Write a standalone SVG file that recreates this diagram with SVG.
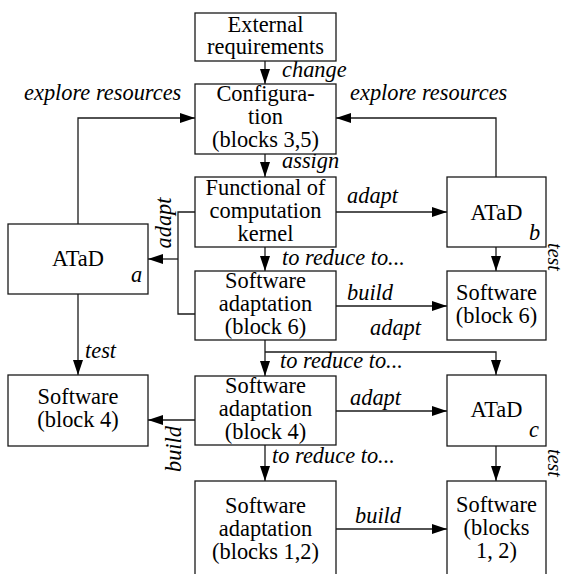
<svg xmlns="http://www.w3.org/2000/svg" width="561" height="574" viewBox="0 0 561 574" font-family="'Liberation Serif', 'Times New Roman', Times, serif">
  <style>
    .box { fill: #fff; stroke: #1a1a1a; stroke-width: 1.3; }
    text { font-family: 'Liberation Serif', 'Times New Roman', Times, serif; font-size: 22.4px; fill: #000; }
    .t { text-anchor: middle; }
    .l { font-style: italic; }
    .s { font-size: 20px; }
    .c { fill: none; stroke: #1a1a1a; stroke-width: 1.3; }
    .a { marker-end: url(#arrow); }
  </style>
  <defs>
    <marker id="arrow" markerUnits="userSpaceOnUse" markerWidth="15" markerHeight="10" refX="15" refY="5" orient="auto">
      <path d="M0,0 L15,5 L0,10 z" fill="#000"/>
    </marker>
  </defs>
  <rect width="561" height="574" fill="#fff"/>

  <!-- connectors -->
  <g id="connectors">
    <path class="c a" d="M265,61 V84"/>
    <path class="c a" d="M265,154 V177"/>
    <path class="c a" d="M265,247 V271"/>
    <path class="c a" d="M265,340 V376"/>
    <path class="c a" d="M265,352 H496 V375"/>
    <path class="c a" d="M265,445 V481"/>
    <path class="c a" d="M78,224 V118 H195"/>
    <path class="c a" d="M496,177 V118 H336"/>
    <path class="c a" d="M336,212 H447"/>
    <path class="c a" d="M336,306 H447"/>
    <path class="c a" d="M496,247 V271"/>
    <path class="c" d="M195,212 H178 V314 H195"/>
    <path class="c a" d="M178,259 H148"/>
    <path class="c a" d="M78,294 V375"/>
    <path class="c a" d="M195,420 H148"/>
    <path class="c a" d="M336,411 H447"/>
    <path class="c a" d="M496,446 V481"/>
    <path class="c a" d="M336,529 H447"/>
  </g>

  <!-- connector labels -->
  <g id="labels" font-family="'Liberation Serif', serif">
    <text class="l" x="282" y="77">change</text>
    <text class="l" x="24" y="100">explore resources</text>
    <text class="l" x="350" y="100">explore resources</text>
    <text class="l" x="282" y="168">assign</text>
    <text class="l" x="347" y="203">adapt</text>
    <text class="l" x="282" y="265">to reduce to...</text>
    <text class="l" x="347" y="300">build</text>
    <text class="l" x="370" y="335">adapt</text>
    <text class="l" x="280" y="368">to reduce to...</text>
    <text class="l" x="85" y="358">test</text>
    <text class="l" x="350" y="405">adapt</text>
    <text class="l" x="272" y="463">to reduce to...</text>
    <text class="l" x="355" y="523">build</text>
    <text class="l" text-anchor="middle" transform="translate(171,223) rotate(-90)">adapt</text>
    <text class="l" text-anchor="middle" transform="translate(181,449) rotate(-90)">build</text>
    <text class="l s" text-anchor="middle" transform="translate(548,257) rotate(90)">test</text>
    <text class="l s" text-anchor="middle" transform="translate(548,463) rotate(90)">test</text>
  </g>

  <g id="external">
    <rect class="box" x="195" y="13" width="141" height="48"/>
    <text class="t" x="265.5" y="32">External</text>
    <text class="t" x="265.5" y="54">requirements</text>
  </g>

  <g id="configuration">
    <rect class="box" x="195" y="84" width="141" height="70"/>
    <text class="t" x="265.5" y="101">Configura-</text>
    <text class="t" x="265.5" y="124">tion</text>
    <text class="t" x="265.5" y="147">(blocks 3,5)</text>
  </g>

  <g id="functional">
    <rect class="box" x="195" y="177" width="141" height="70"/>
    <text class="t" x="265.5" y="195">Functional of</text>
    <text class="t" x="265.5" y="218">computation</text>
    <text class="t" x="265.5" y="241">kernel</text>
  </g>

  <g id="sw-adapt-6">
    <rect class="box" x="195" y="271" width="141" height="69"/>
    <text class="t" x="265.5" y="288">Software</text>
    <text class="t" x="265.5" y="311">adaptation</text>
    <text class="t" x="265.5" y="334">(block 6)</text>
  </g>

  <g id="sw-adapt-4">
    <rect class="box" x="195" y="376" width="141" height="69"/>
    <text class="t" x="265.5" y="393">Software</text>
    <text class="t" x="265.5" y="416">adaptation</text>
    <text class="t" x="265.5" y="439">(block 4)</text>
  </g>

  <g id="sw-adapt-12">
    <rect class="box" x="195" y="481" width="141" height="100"/>
    <text class="t" x="265.5" y="513">Software</text>
    <text class="t" x="265.5" y="536">adaptation</text>
    <text class="t" x="265.5" y="559">(blocks 1,2)</text>
  </g>

  <g id="atad-a">
    <rect class="box" x="8" y="224" width="140" height="70"/>
    <text class="t" x="78" y="266">ATaD</text>
    <text class="l" x="131" y="282">a</text>
  </g>

  <g id="software-4">
    <rect class="box" x="8" y="375" width="140" height="71"/>
    <text class="t" x="78" y="404">Software</text>
    <text class="t" x="78" y="427">(block 4)</text>
  </g>

  <g id="atad-b">
    <rect class="box" x="447" y="177" width="99" height="70"/>
    <text class="t" x="496.5" y="220">ATaD</text>
    <text class="l" x="529" y="240">b</text>
  </g>

  <g id="software-6">
    <rect class="box" x="447" y="271" width="99" height="69"/>
    <text class="t" x="496.5" y="300">Software</text>
    <text class="t" x="496.5" y="323">(block 6)</text>
  </g>

  <g id="atad-c">
    <rect class="box" x="447" y="375" width="99" height="71"/>
    <text class="t" x="496.5" y="417">ATaD</text>
    <text class="l" x="529" y="437">c</text>
  </g>

  <g id="software-12">
    <rect class="box" x="447" y="481" width="99" height="100"/>
    <text class="t" x="496.5" y="512">Software</text>
    <text class="t" x="496.5" y="535">(blocks</text>
    <text class="t" x="496.5" y="558">1, 2)</text>
  </g>
</svg>
